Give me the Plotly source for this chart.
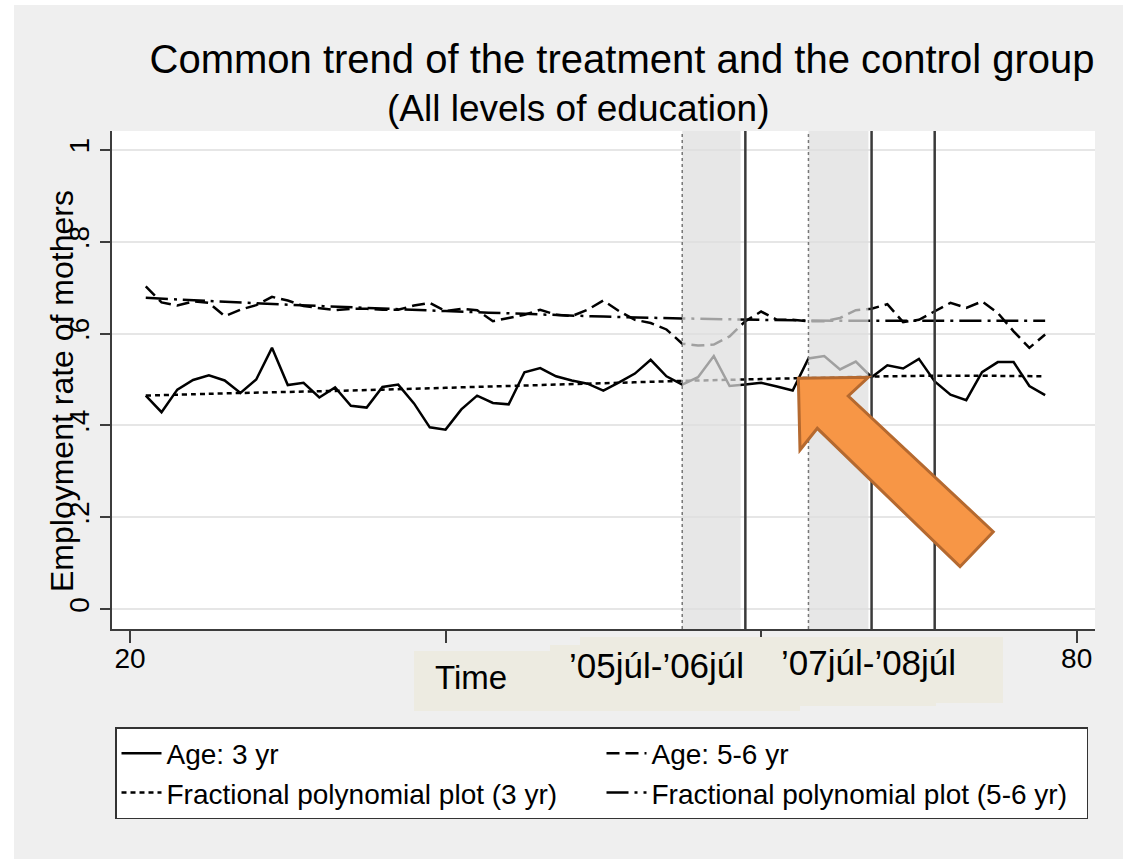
import plotly.graph_objects as go

# ---------------- data ----------------
months = [21, 22, 23, 24, 25, 26, 27, 28, 29, 30, 31, 32, 33, 34, 35, 36, 37, 38, 39, 40,
          41, 42, 43, 44, 45, 46, 47, 48, 49, 50, 51, 52, 53, 54, 55, 56, 57, 58, 59, 60,
          61, 62, 63, 64, 65, 66, 67, 68, 69, 70, 71, 72, 73, 74, 75, 76, 77, 78]

age_3yr = [0.465, 0.429, 0.478, 0.499, 0.509, 0.498, 0.471, 0.500, 0.569, 0.488,
           0.493, 0.461, 0.483, 0.443, 0.439, 0.484, 0.489, 0.448, 0.396, 0.391,
           0.435, 0.465, 0.449, 0.446, 0.516, 0.525, 0.507, 0.498, 0.491, 0.476,
           0.494, 0.513, 0.543, 0.507, 0.489, 0.505, 0.551, 0.486, 0.489, 0.493,
           0.485, 0.476, 0.546, 0.551, 0.522, 0.539, 0.505, 0.531, 0.524, 0.545,
           0.496, 0.467, 0.455, 0.516, 0.538, 0.538, 0.486, 0.466]

age_56yr = [0.703, 0.668, 0.661, 0.670, 0.667, 0.638, 0.652, 0.662, 0.680, 0.672,
            0.660, 0.656, 0.651, 0.654, 0.654, 0.652, 0.652, 0.661, 0.667, 0.649,
            0.654, 0.651, 0.627, 0.634, 0.641, 0.652, 0.641, 0.638, 0.652, 0.672,
            0.649, 0.630, 0.623, 0.609, 0.578, 0.574, 0.576, 0.594, 0.627, 0.648,
            0.630, 0.630, 0.627, 0.627, 0.634, 0.651, 0.654, 0.664, 0.625, 0.630,
            0.649, 0.667, 0.656, 0.670, 0.645, 0.605, 0.569, 0.598]

fp_months = [21, 25, 30, 35, 40, 45, 50, 55, 60, 65, 70, 75, 78]
fp_3yr = [0.465, 0.469, 0.473, 0.477, 0.482, 0.487, 0.492, 0.497, 0.501, 0.505, 0.508, 0.508, 0.507]
fp_56yr = [0.678, 0.671, 0.663, 0.656, 0.649, 0.643, 0.637, 0.633, 0.630, 0.628, 0.628, 0.628, 0.628]

x_tick_vals = [20, 40, 60, 80]
x_tick_text = ["20", "", "", "80"]   # 40 and 60 are hidden under the period labels
y_tick_vals = [0, 0.2, 0.4, 0.6, 0.8, 1.0]
y_tick_text = ["0", ".2", ".4", ".6", ".8", "1"]

shaded_periods = [(55, 58.7), (63, 66.8)]
event_lines = [59, 67, 71]

title_text = "Common trend of the treatment and the control group"
subtitle_text = "(All levels of education)"
y_title_text = "Employment rate of mothers"
period_labels = ["Time", "\u201905j\u00fal-\u201906j\u00fal", "\u201907j\u00fal-\u201908j\u00fal"]

# ---------------- layout helpers ----------------
W, H = 1146, 859
ML, MR, MT, MB = 112, 51, 131, 230
PW = W - ML - MR
PH = H - MT - MB


def px(x):
    return (x - ML) / PW


def py(y):
    return (H - MB - y) / PH


FONT = "Liberation Sans, Arial, sans-serif"
LW = 2.5

fig = go.Figure()

fig.add_trace(go.Scatter(x=months, y=age_3yr, mode="lines", name="Age: 3 yr",
                         line=dict(color="black", width=LW)))
fig.add_trace(go.Scatter(x=months, y=age_56yr, mode="lines", name="Age: 5-6 yr",
                         line=dict(color="black", width=LW, dash="13px,6px")))
fig.add_trace(go.Scatter(x=fp_months, y=fp_3yr, mode="lines", name="Fractional polynomial plot (3 yr)",
                         line=dict(color="black", width=LW, dash="5px,4px", shape="spline")))
fig.add_trace(go.Scatter(x=fp_months, y=fp_56yr, mode="lines", name="Fractional polynomial plot (5-6 yr)",
                         line=dict(color="black", width=LW, dash="22px,6px,3px,6px", shape="spline")))

shapes = []
# white outer margins around the grey graph region
shapes.append(dict(type="rect", xref="paper", yref="paper", layer="below",
                   x0=px(0), x1=px(14), y0=py(H), y1=py(0), fillcolor="white", line=dict(width=0)))
shapes.append(dict(type="rect", xref="paper", yref="paper", layer="below",
                   x0=px(1123), x1=px(W), y0=py(H), y1=py(0), fillcolor="white", line=dict(width=0)))
shapes.append(dict(type="rect", xref="paper", yref="paper", layer="below",
                   x0=px(0), x1=px(W), y0=py(5), y1=py(0), fillcolor="white", line=dict(width=0)))

# shaded periods (overlay)
for (a, b) in shaded_periods:
    shapes.append(dict(type="rect", xref="x", yref="paper", layer="above",
                       x0=a, x1=b, y0=0, y1=1, fillcolor="rgba(222,222,222,0.72)",
                       line=dict(width=0)))
    shapes.append(dict(type="line", xref="x", yref="paper", layer="above",
                       x0=a, x1=a, y0=0, y1=1, line=dict(color="#777777", width=1.5, dash="dot")))

for v in event_lines:
    shapes.append(dict(type="line", xref="x", yref="paper", layer="above",
                       x0=v, x1=v, y0=0, y1=1, line=dict(color="#3a3a3a", width=2.5)))

# beige text boxes below the axis
beige = "#edebe1"
for (x0, x1, y0, y1) in [(414, 800, 651, 711), (550, 936, 645, 706), (580, 1003, 637, 703)]:
    shapes.append(dict(type="rect", xref="paper", yref="paper", layer="above",
                       x0=px(x0), x1=px(x1), y0=py(y1), y1=py(y0), fillcolor=beige,
                       line=dict(width=0)))

# orange arrow
arrow_pts = [(798.3, 378.3), (868.3, 377.3), (848.3, 396), (993.3, 531.7),
             (960, 566.7), (817.3, 428.3), (800, 450)]
path = "M " + " L ".join(f"{px(a):.4f},{py(b):.4f}" for a, b in arrow_pts) + " Z"
shapes.append(dict(type="path", xref="paper", yref="paper", layer="above", path=path,
                   fillcolor="#f79646", line=dict(color="#b5692f", width=3)))

annotations = [
    dict(text=subtitle_text, xref="paper", yref="paper", x=px(578), y=py(108),
         xanchor="center", yanchor="middle", showarrow=False,
         font=dict(family=FONT, size=37, color="black")),
    dict(text=y_title_text, xref="paper", yref="paper", x=px(62), y=py(391),
         xanchor="center", yanchor="middle", showarrow=False, textangle=-90,
         font=dict(family=FONT, size=32, color="black")),
    dict(text=period_labels[0], xref="paper", yref="paper", x=px(433), y=py(677),
         xanchor="left", yanchor="middle", showarrow=False,
         font=dict(family=FONT, size=33, color="black")),
    dict(text=period_labels[1], xref="paper", yref="paper", x=px(567), y=py(665),
         xanchor="left", yanchor="middle", showarrow=False,
         font=dict(family=FONT, size=35, color="black")),
    dict(text=period_labels[2], xref="paper", yref="paper", x=px(779), y=py(662),
         xanchor="left", yanchor="middle", showarrow=False,
         font=dict(family=FONT, size=35, color="black")),
]

fig.update_layout(
    width=W, height=H,
    margin=dict(l=ML, r=MR, t=MT, b=MB, pad=0, autoexpand=False),
    paper_bgcolor="#efefef",
    plot_bgcolor="white",
    font=dict(family=FONT, color="black"),
    title=dict(text=title_text, x=622 / W, xref="container", xanchor="center",
               y=1 - 59 / H, yref="container", yanchor="middle",
               font=dict(family=FONT, size=40, color="black")),
    shapes=shapes,
    annotations=annotations,
    showlegend=True,
    legend=dict(orientation="h", x=px(115), y=py(727), xanchor="left", yanchor="top",
                bgcolor="white", bordercolor="#333333", borderwidth=1.5,
                font=dict(family=FONT, size=28, color="black"),
                entrywidth=430, entrywidthmode="pixels", traceorder="normal",
                itemwidth=40, tracegroupgap=0),
)

fig.update_xaxes(range=[18.86, 81.16], tickvals=x_tick_vals, ticktext=x_tick_text,
                 showgrid=False, zeroline=False, showline=True, linecolor="#3c3c3c", linewidth=1.6,
                 ticks="outside", ticklen=12, tickwidth=1.6, tickcolor="#3c3c3c",
                 ticklabelstandoff=-8,
                 tickfont=dict(family=FONT, size=28, color="black"))
fig.update_yaxes(range=[-0.043, 1.041], tickvals=y_tick_vals, ticktext=y_tick_text,
                 showgrid=True, gridcolor="#e6e6e6", gridwidth=2, zeroline=False,
                 showline=True, linecolor="#3c3c3c", linewidth=1.6,
                 ticks="outside", ticklen=10, tickwidth=1.6, tickcolor="#3c3c3c",
                 tickangle=-90, tickfont=dict(family=FONT, size=28, color="black"))

fig.write_html("out.html", config={"displayModeBar": False},
               post_script="document.body.style.margin='0px';")
